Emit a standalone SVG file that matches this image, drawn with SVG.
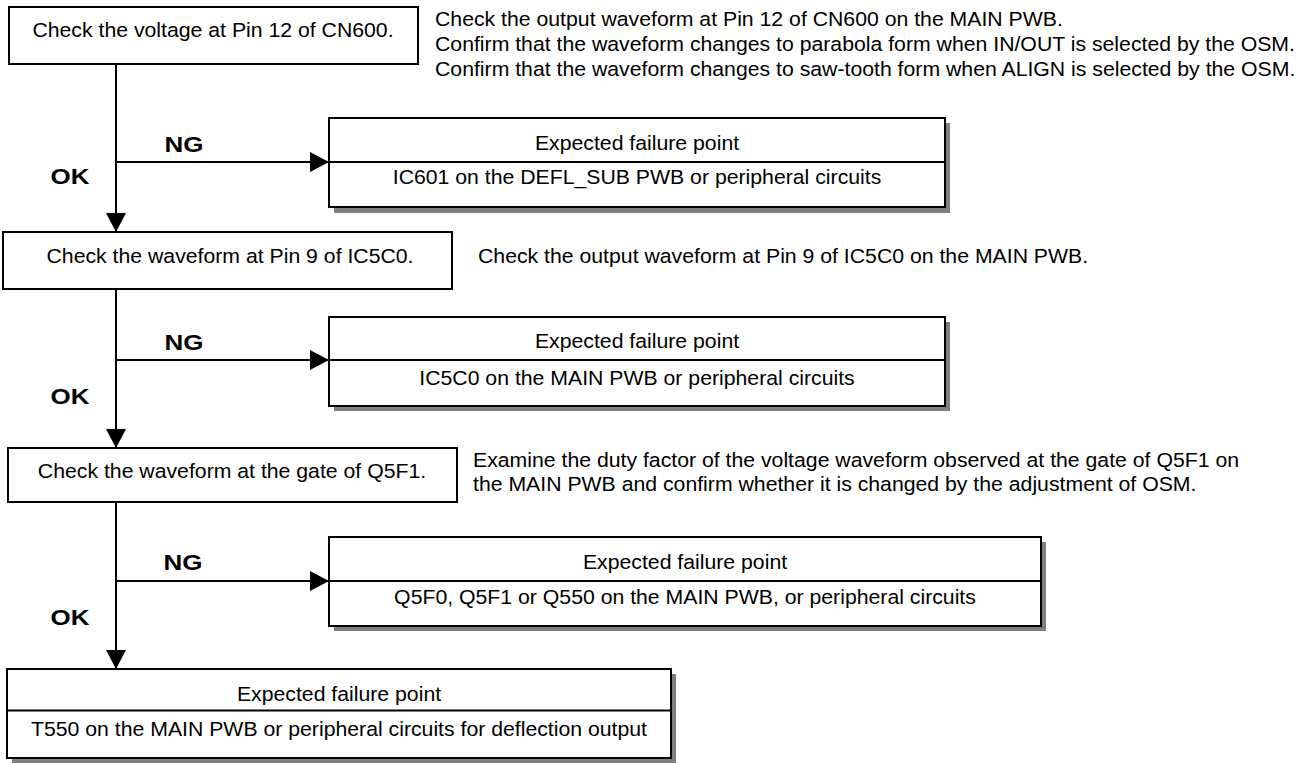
<svg xmlns="http://www.w3.org/2000/svg" width="1314" height="764" viewBox="0 0 1314 764">
<style>
text{font-family:"Liberation Sans",Arial,sans-serif;fill:#000}
.t{font-size:19.5px}
.c{text-anchor:middle}
.lbl{font-size:22px;font-weight:bold}
.box{fill:#fff;stroke:#000;stroke-width:2}
.sh{fill:#808080;stroke:none}
.div{stroke:#000;stroke-width:2}
.ln{stroke:#000;stroke-width:2;fill:none}
</style>
<defs>
<marker id="ah" markerUnits="userSpaceOnUse" markerWidth="20" markerHeight="20" viewBox="0 0 19 20" refX="19" refY="10" orient="auto">
<path d="M0,0 L19,10 L0,20 Z" fill="#000"/>
</marker>
</defs>

<g id="connectors">
<line class="ln" x1="116" y1="64" x2="116" y2="232" marker-end="url(#ah)"/>
<line class="ln" x1="116" y1="162" x2="329" y2="162" marker-end="url(#ah)"/>
<line class="ln" x1="116" y1="289" x2="116" y2="448" marker-end="url(#ah)"/>
<line class="ln" x1="116" y1="360" x2="329" y2="360" marker-end="url(#ah)"/>
<line class="ln" x1="116" y1="502" x2="116" y2="669" marker-end="url(#ah)"/>
<line class="ln" x1="116" y1="581" x2="329" y2="581" marker-end="url(#ah)"/>
<text class="lbl c" transform="translate(184,151.5) scale(1.18,1)">NG</text>
<text class="lbl c" transform="translate(70,183.5) scale(1.18,1)">OK</text>
<text class="lbl c" transform="translate(184,349.5) scale(1.18,1)">NG</text>
<text class="lbl c" transform="translate(70,403.5) scale(1.18,1)">OK</text>
<text class="lbl c" transform="translate(183,570) scale(1.18,1)">NG</text>
<text class="lbl c" transform="translate(70,625) scale(1.18,1)">OK</text>
</g>

<g id="check1">
<rect class="box" x="9" y="7" width="409" height="57"/>
<text class="t c" transform="translate(213,37) scale(1.09,1)">Check the voltage at Pin 12 of CN600.</text>
</g>
<g id="note1">
<text class="t" transform="translate(435,25.7) scale(1.09,1)">Check the output waveform at Pin 12 of CN600 on the MAIN PWB.</text>
<text class="t" transform="translate(435,50.7) scale(1.09,1)">Confirm that the waveform changes to parabola form when IN/OUT is selected by the OSM.</text>
<text class="t" transform="translate(435,75.7) scale(1.09,1)">Confirm that the waveform changes to saw-tooth form when ALIGN is selected by the OSM.</text>
</g>

<g id="fail1">
<rect class="sh" x="334" y="123" width="616" height="90"/>
<rect class="box" x="329" y="118" width="616" height="89"/>
<line class="div" x1="329" y1="162" x2="945" y2="162"/>
<text class="t c" transform="translate(637,149.5) scale(1.09,1)">Expected failure point</text>
<text class="t c" transform="translate(637,184) scale(1.09,1)">IC601 on the DEFL_SUB PWB or peripheral circuits</text>
</g>

<g id="check2">
<rect class="box" x="3" y="232" width="449" height="57"/>
<text class="t c" transform="translate(230,263.3) scale(1.09,1)">Check the waveform at Pin 9 of IC5C0.</text>
</g>
<g id="note2">
<text class="t" transform="translate(478,263.3) scale(1.09,1)">Check the output waveform at Pin 9 of IC5C0 on the MAIN PWB.</text>
</g>

<g id="fail2">
<rect class="sh" x="334" y="322" width="616" height="89"/>
<rect class="box" x="329" y="317" width="616" height="89"/>
<line class="div" x1="329" y1="360" x2="945" y2="360"/>
<text class="t c" transform="translate(637,348) scale(1.09,1)">Expected failure point</text>
<text class="t c" transform="translate(637,385) scale(1.09,1)">IC5C0 on the MAIN PWB or peripheral circuits</text>
</g>

<g id="check3">
<rect class="box" x="8" y="448" width="449" height="54"/>
<text class="t c" transform="translate(232,478.3) scale(1.09,1)">Check the waveform at the gate of Q5F1.</text>
</g>
<g id="note3">
<text class="t" transform="translate(473,467.3) scale(1.09,1)">Examine the duty factor of the voltage waveform observed at the gate of Q5F1 on</text>
<text class="t" transform="translate(473,490.7) scale(1.09,1)">the MAIN PWB and confirm whether it is changed by the adjustment of OSM.</text>
</g>

<g id="fail3">
<rect class="sh" x="334" y="542" width="712" height="89"/>
<rect class="box" x="329" y="537" width="712" height="89"/>
<line class="div" x1="329" y1="581" x2="1041" y2="581"/>
<text class="t c" transform="translate(685,568.5) scale(1.09,1)">Expected failure point</text>
<text class="t c" transform="translate(685,604) scale(1.09,1)">Q5F0, Q5F1 or Q550 on the MAIN PWB, or peripheral circuits</text>
</g>

<g id="fail4">
<rect class="sh" x="12" y="674" width="664" height="89"/>
<rect class="box" x="7" y="669" width="664" height="89"/>
<line class="div" x1="7" y1="710.5" x2="671" y2="710.5"/>
<text class="t c" transform="translate(339,700.7) scale(1.09,1)">Expected failure point</text>
<text class="t c" transform="translate(339,736) scale(1.09,1)">T550 on the MAIN PWB or peripheral circuits for deflection output</text>
</g>
</svg>
